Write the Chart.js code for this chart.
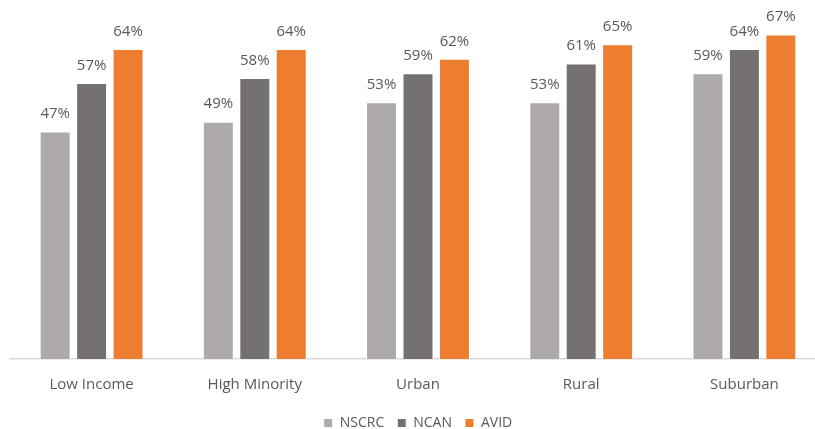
<!DOCTYPE html>
<html>
<head>
<meta charset="utf-8">
<script src="https://cdn.jsdelivr.net/npm/chart.js@4.4.1/dist/chart.umd.min.js"></script>
<style>
  html, body { margin: 0; padding: 0; background: #ffffff; overflow: hidden; }
  #wrap { width: 815px; height: 429px; overflow: hidden; }
</style>
</head>
<body>
<div id="wrap"><canvas id="grafico" width="826" height="440"></canvas></div>
<script>
// Categorias e valores (percentual)
var categorias = ['Low Income', 'High Minority', 'Urban', 'Rural', 'Suburban'];
var nscrc = [47, 49, 53, 53, 59];
var ncan = [57, 58, 59, 61, 64];
var avid = [64, 64, 62, 65, 67];

// Plugin simples para escrever o valor acima de cada barra
var rotulosPlugin = {
    id: 'rotulos',
    afterDatasetsDraw: function(chart) {
        var ctx = chart.ctx;
        ctx.save();
        ctx.font = '15px "Open Sans"';
        ctx.fillStyle = '#595959';
        ctx.textAlign = 'center';
        ctx.textBaseline = 'bottom';
        chart.data.datasets.forEach(function(ds, i) {
            chart.getDatasetMeta(i).data.forEach(function(bar, j) {
                ctx.fillText(ds.data[j] + '%', bar.x, bar.y - 10);
            });
        });
        ctx.restore();
    }
};

var ctx = document.getElementById('grafico').getContext('2d');
new Chart(ctx, {
    type: 'bar',
    data: {
        labels: categorias,
        datasets: [
            { label: 'NSCRC', data: nscrc, backgroundColor: '#AEAAAA', borderColor: '#ffffff', borderWidth: 1 },
            { label: 'NCAN', data: ncan, backgroundColor: '#767171', borderColor: '#ffffff', borderWidth: 1 },
            { label: 'AVID', data: avid, backgroundColor: '#ED7D31', borderColor: '#ffffff', borderWidth: 1 }
        ]
    },
    options: {
        responsive: false,
        animation: false,
        layout: { padding: { left: 10, right: 0, top: 20, bottom: 0 } },
        datasets: {
            bar: { categoryPercentage: 0.67, barPercentage: 0.85 }
        },
        scales: {
            x: {
                grid: { display: false },
                border: { display: true, color: '#D9D9D9', width: 1.5 },
                ticks: { color: '#595959', font: { family: 'Open Sans', size: 15 }, padding: 9 }
            },
            y: {
                display: false,
                min: 0,
                max: 70
            }
        },
        plugins: {
            legend: {
                position: 'bottom',
                labels: {
                    color: '#595959',
                    font: { family: 'Open Sans', size: 14 },
                    boxWidth: 9,
                    boxHeight: 9,
                    padding: 13
                }
            },
            tooltip: { enabled: false }
        }
    },
    plugins: [rotulosPlugin]
});
</script>
</body>
</html>
